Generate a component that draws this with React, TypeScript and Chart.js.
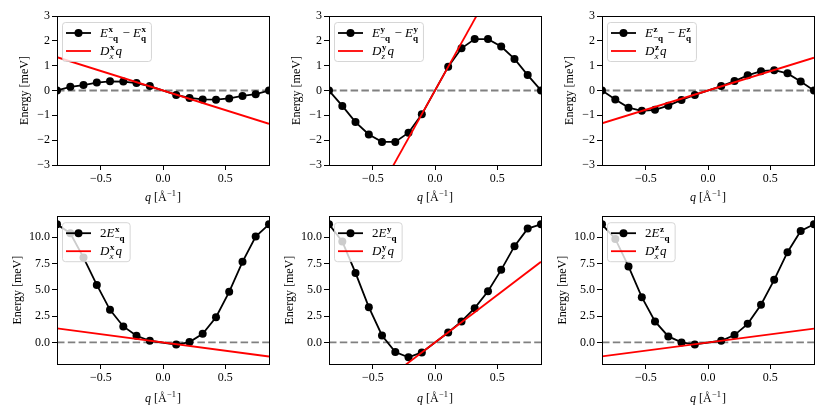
import { useEffect, useRef } from 'react'
import { Chart, registerables } from 'chart.js'

Chart.register(...registerables)

// q grid (Å^-1), same for all six panels
const qValues = [-0.852, -0.745, -0.639, -0.532, -0.426, -0.319, -0.213, -0.106, 0.106, 0.213, 0.319, 0.426, 0.532, 0.639, 0.745, 0.852]
const qLimits = [-0.852, 0.852]

// top row: E_{-q} - E_q (meV)
const diffX = [0.0, 0.15, 0.22, 0.32, 0.37, 0.36, 0.3, 0.18, -0.18, -0.3, -0.36, -0.37, -0.32, -0.22, -0.15, 0.0]
const diffY = [0.0, -0.62, -1.27, -1.77, -2.07, -2.07, -1.7, -0.96, 0.96, 1.7, 2.07, 2.07, 1.77, 1.27, 0.62, 0.0]
const diffZ = [0.0, -0.36, -0.69, -0.82, -0.78, -0.61, -0.38, -0.18, 0.18, 0.38, 0.61, 0.78, 0.82, 0.69, 0.36, 0.0]

// bottom row: 2 E_{-q} (meV)
const twoEX = [11.23, 10.38, 8.07, 5.47, 3.1, 1.52, 0.63, 0.16, -0.2, 0.03, 0.82, 2.4, 4.81, 7.66, 10.06, 11.23]
const twoEY = [11.23, 9.59, 6.61, 3.35, 0.66, -0.92, -1.42, -0.95, 0.95, 2.0, 3.26, 4.87, 6.9, 9.15, 10.82, 11.23]
const twoEZ = [11.23, 9.84, 7.22, 4.3, 2.0, 0.57, 0.0, -0.19, 0.16, 0.7, 1.77, 3.58, 5.95, 8.58, 10.6, 11.23]

// D q line, values at the two q limits
const dmiLineX = [1.34, -1.34]
const dmiLineY = [-7.67, 7.67]
const dmiLineZ = [-1.32, 1.32]

const xTicks = [-0.5, 0, 0.5]
const diffTicks = [-3, -2, -1, 0, 1, 2, 3]
const energyTicks = [0, 2.5, 5, 7.5, 10]
const diffRange = [-3, 3]
const energyRange = [-2.05, 12.0]

const FONT = '"Liberation Serif", "DejaVu Serif", serif'
const FS = 12
const LEG_FS = 13

type Tok = { t: string; it?: boolean; bf?: boolean }
type Piece = Tok | { sup: Tok[]; sub: Tok[] }

const diffLabel = (c: string): Piece[] => [
  { t: 'E', it: true },
  { sup: [{ t: c, bf: true }], sub: [{ t: '−' }, { t: 'q', bf: true }] },
  { t: ' − ' },
  { t: 'E', it: true },
  { sup: [{ t: c, bf: true }], sub: [{ t: 'q', bf: true }] },
]
const twoELabel = (c: string): Piece[] => [
  { t: '2' },
  { t: 'E', it: true },
  { sup: [{ t: c, bf: true }], sub: [{ t: '−' }, { t: 'q', bf: true }] },
]
const dmiLabel = (c: string, s: string): Piece[] => [
  { t: 'D', it: true },
  { sup: [{ t: c, bf: true }], sub: [{ t: s, it: true }] },
  { t: 'q', it: true },
]
const qTitle: Piece[] = [
  { t: 'q', it: true },
  { t: ' [Å' },
  { sup: [{ t: '−1' }], sub: [] },
  { t: ']' },
]

function tokFont(tok: Tok, size: number) {
  return `${tok.it ? 'italic ' : ''}${tok.bf ? 'bold ' : ''}${size}px ${FONT}`
}

function drawRun(ctx: CanvasRenderingContext2D, toks: Tok[], x: number, y: number, size: number, draw: boolean) {
  let cx = x
  for (const tok of toks) {
    ctx.font = tokFont(tok, size)
    if (draw) ctx.fillText(tok.t, cx, y)
    cx += ctx.measureText(tok.t).width
  }
  return cx - x
}

function drawRich(ctx: CanvasRenderingContext2D, pieces: Piece[], x: number, y: number, size: number, draw = true) {
  let cx = x
  for (const p of pieces) {
    if ('sup' in p) {
      const s = size * 0.7
      const w1 = drawRun(ctx, p.sup, cx + 0.5, y - size * 0.4, s, draw)
      const w2 = drawRun(ctx, p.sub, cx, y + size * 0.28, s, draw)
      cx += Math.max(w1 + 0.5, w2) + 1
    } else {
      cx += drawRun(ctx, [p], cx, y, size, draw)
    }
  }
  return cx - x
}

const minusFmt = (v: number, digits: number) => (v < 0 ? '−' : '') + Math.abs(v).toFixed(digits)

interface PanelProps {
  values: number[]
  line: number[]
  dataLabel: Piece[]
  lineLabel: Piece[]
  row: number
}

function Panel({ values, line, dataLabel, lineLabel, row }: PanelProps) {
  const canvasRef = useRef<HTMLCanvasElement>(null)
  const chartRef = useRef<Chart | null>(null)

  useEffect(() => {
    if (!canvasRef.current) return
    const ctx = canvasRef.current.getContext('2d')
    if (!ctx) return

    const top = row === 0
    const yRange = top ? diffRange : energyRange
    const yTicks = top ? diffTicks : energyTicks

    // spines on all four sides + x title + legend
    const decor = {
      id: 'decor',
      afterDatasetsDraw(chart: any) {
        const c = chart.ctx as CanvasRenderingContext2D
        const a = chart.chartArea
        c.save()
        c.strokeStyle = '#000'
        c.lineWidth = 1
        c.strokeRect(Math.round(a.left) + 0.5, Math.round(a.top) + 0.5, Math.round(a.right - a.left), Math.round(a.bottom - a.top))
        c.restore()
      },
      afterDraw(chart: any) {
        const c = chart.ctx as CanvasRenderingContext2D
        const a = chart.chartArea
        c.save()
        c.fillStyle = '#000'
        c.textBaseline = 'alphabetic'
        // x title
        const tw = drawRich(c, qTitle, 0, 0, FS, false)
        drawRich(c, qTitle, (a.left + a.right) / 2 - tw / 2, a.bottom + (top ? 36 : 38), FS)

        // legend
        const bx = a.left + 5
        const by = a.top + 6
        const textX = bx + 38
        const w = Math.max(drawRich(c, dataLabel, 0, 0, LEG_FS, false), drawRich(c, lineLabel, 0, 0, LEG_FS, false))
        const bw = textX + w + 4 - bx
        const bh = 39
        c.beginPath()
        c.roundRect(bx + 0.5, by + 0.5, bw, bh, 3)
        c.fillStyle = 'rgba(255,255,255,0.8)'
        c.fill()
        c.strokeStyle = 'rgba(204,204,204,0.8)'
        c.lineWidth = 1
        c.stroke()

        const r1 = by + 11
        const r2 = by + 29
        c.lineWidth = 1.8
        c.strokeStyle = '#000'
        c.beginPath()
        c.moveTo(bx + 4, r1)
        c.lineTo(bx + 29, r1)
        c.stroke()
        c.fillStyle = '#000'
        c.beginPath()
        c.arc(bx + 16.5, r1, 4, 0, Math.PI * 2)
        c.fill()
        c.strokeStyle = '#ff0000'
        c.beginPath()
        c.moveTo(bx + 4, r2)
        c.lineTo(bx + 29, r2)
        c.stroke()

        c.fillStyle = '#000'
        drawRich(c, dataLabel, textX, r1 + 4, LEG_FS)
        drawRich(c, lineLabel, textX, r2 + 4, LEG_FS)
        c.restore()
      },
    }

    if (chartRef.current) {
      chartRef.current.destroy()
      chartRef.current = null
    }

    chartRef.current = new Chart(ctx, {
      type: 'line',
      data: {
        datasets: [
          {
            label: 'zero',
            data: qLimits.map(q => ({ x: q, y: 0 })),
            borderColor: '#808080',
            borderWidth: 1.8,
            borderDash: [7.5, 3.3],
            pointRadius: 0,
            order: 3,
          },
          {
            label: 'data',
            data: qValues.map((q, i) => ({ x: q, y: values[i] })),
            borderColor: '#000',
            borderWidth: 1.8,
            pointRadius: 4,
            pointBackgroundColor: '#000',
            pointBorderWidth: 0,
            order: 2,
          },
          {
            label: 'Dq',
            data: qLimits.map((q, i) => ({ x: q, y: line[i] })),
            borderColor: '#ff0000',
            borderWidth: 1.8,
            pointRadius: 0,
            order: 1,
          },
        ],
      },
      options: {
        animation: false,
        responsive: true,
        maintainAspectRatio: false,
        layout: { padding: { top: top ? 16 : 9, right: 1, left: 0, bottom: 0 } },
        plugins: { legend: { display: false }, tooltip: { enabled: false } },
        scales: {
          x: {
            type: 'linear',
            min: qLimits[0],
            max: qLimits[1],
            afterBuildTicks: (s: any) => { s.ticks = xTicks.map(v => ({ value: v })) },
            afterFit: (s: any) => { s.height = top ? 42 : 51 },
            ticks: {
              color: '#000',
              font: { family: FONT, size: FS },
              padding: 2,
              maxRotation: 0,
              callback: (v: any) => minusFmt(Number(v), 1),
            },
            grid: { display: true, drawOnChartArea: false, drawTicks: true, tickLength: 5, color: '#000', lineWidth: 1 },
            border: { display: false },
          },
          y: {
            min: yRange[0],
            max: yRange[1],
            afterBuildTicks: (s: any) => { s.ticks = yTicks.map(v => ({ value: v })) },
            afterFit: (s: any) => { s.width = 57 },
            title: {
              display: true,
              text: 'Energy [meV]',
              color: '#000',
              font: { family: FONT, size: FS },
              padding: { top: top ? 17.5 : 11, bottom: 0 },
            },
            ticks: {
              color: '#000',
              font: { family: FONT, size: FS },
              padding: 2,
              callback: (v: any) => minusFmt(Number(v), top ? 0 : 1),
            },
            grid: { display: true, drawOnChartArea: false, drawTicks: true, tickLength: 5, color: '#000', lineWidth: 1 },
            border: { display: false },
          },
        },
      },
      plugins: [decor],
    } as any)

    return () => {
      chartRef.current?.destroy()
      chartRef.current = null
    }
  }, [values, line, dataLabel, lineLabel, row])

  return <canvas ref={canvasRef} role="img" aria-label="energy vs q" />
}

const colLefts = [0, 272, 545]
const rowTops = [0, 207]
const rowHeights = [207, 208]

const panels = [
  { values: diffX, line: dmiLineX, dataLabel: diffLabel('x'), lineLabel: dmiLabel('x', 'x'), row: 0, col: 0 },
  { values: diffY, line: dmiLineY, dataLabel: diffLabel('y'), lineLabel: dmiLabel('y', 'z'), row: 0, col: 1 },
  { values: diffZ, line: dmiLineZ, dataLabel: diffLabel('z'), lineLabel: dmiLabel('z', 'x'), row: 0, col: 2 },
  { values: twoEX, line: dmiLineX, dataLabel: twoELabel('x'), lineLabel: dmiLabel('x', 'x'), row: 1, col: 0 },
  { values: twoEY, line: dmiLineY, dataLabel: twoELabel('y'), lineLabel: dmiLabel('y', 'z'), row: 1, col: 1 },
  { values: twoEZ, line: dmiLineZ, dataLabel: twoELabel('z'), lineLabel: dmiLabel('z', 'x'), row: 1, col: 2 },
]

export default function App() {
  return (
    <div style={{ position: 'absolute', left: 0, top: 0, width: 830, height: 415, background: '#fff' }}>
      {panels.map((p, i) => (
        <div
          key={i}
          style={{ position: 'absolute', left: colLefts[p.col], top: rowTops[p.row], width: 273, height: rowHeights[p.row] }}
        >
          <Panel values={p.values} line={p.line} dataLabel={p.dataLabel} lineLabel={p.lineLabel} row={p.row} />
        </div>
      ))}
    </div>
  )
}
